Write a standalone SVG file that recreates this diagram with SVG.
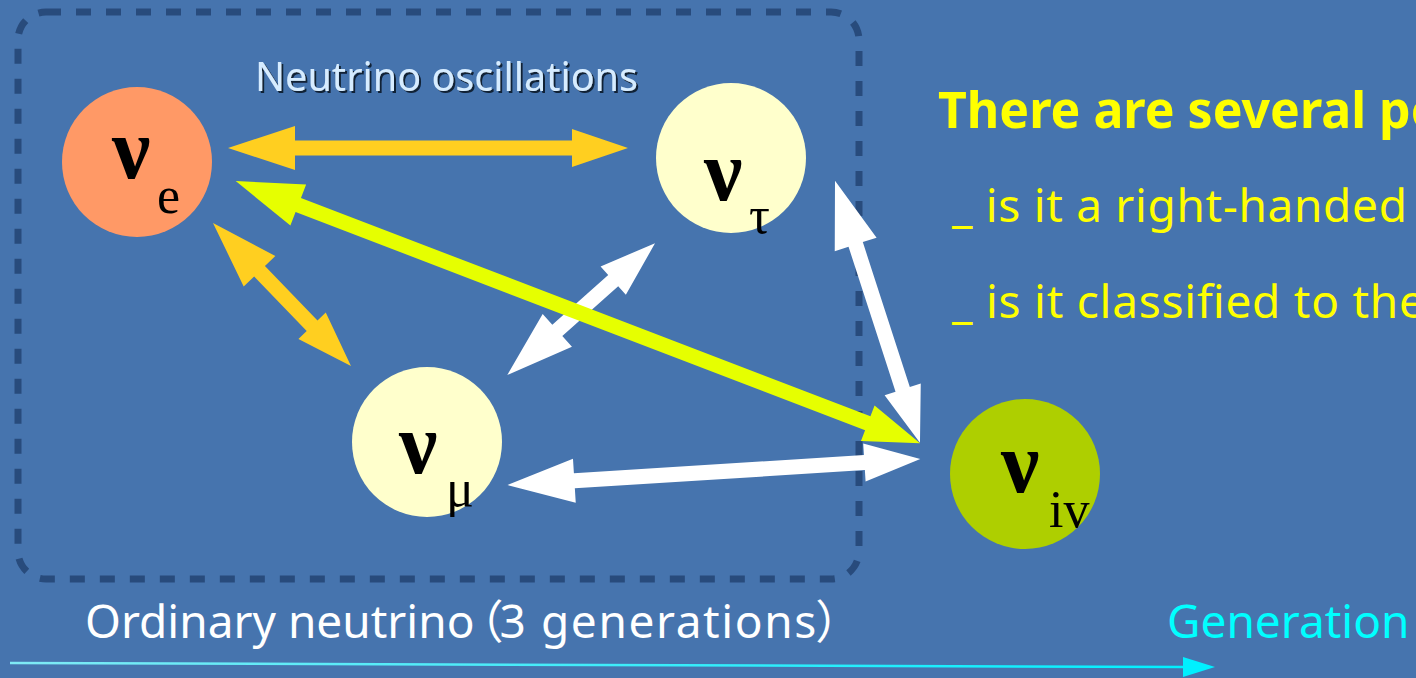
<svg xmlns="http://www.w3.org/2000/svg" width="1416" height="678" viewBox="0 0 1416 678">
  <defs>
    <filter id="shadow" x="-5%" y="-20%" width="110%" height="150%">
      <feDropShadow dx="2" dy="2" stdDeviation="0.6" flood-color="#0d1a2e" flood-opacity="0.95"/>
    </filter>
    <linearGradient id="cyanLine" x1="0" y1="0" x2="1" y2="0">
      <stop offset="0" stop-color="#7feaf5"/>
      <stop offset="1" stop-color="#00f0ff"/>
    </linearGradient>
  </defs>
  <style>
    .bg { fill: #4674AE; }
    .frame { fill: none; stroke: #284B7C; stroke-width: 7; stroke-dasharray: 15 15; }
    .nu { font-family: "Liberation Serif", "Times New Roman", serif; font-size: 86px; font-weight: bold; fill: #000; }
    .sub { font-family: "Liberation Serif", "Times New Roman", serif; font-size: 52px; fill: #000; }
    .sans { font-family: "Noto Sans", "Noto Sans CJK JP", sans-serif; }
    .orange { fill: #FFCF20; }
    .white { fill: #FFFFFF; }
    .lime { fill: #E6FF00; }
  </style>

  <rect class="bg" x="0" y="0" width="1416" height="678"/>

  <g id="frame">
    <rect class="frame" x="18" y="12" width="841" height="567" rx="28" ry="28"/>
    <text class="sans" x="255" y="91" font-size="40" fill="#D6ECFF" textLength="383" lengthAdjust="spacingAndGlyphs" filter="url(#shadow)">Neutrino oscillations</text>
  </g>

  <g id="node-nu-e">
    <circle cx="137" cy="162" r="75" fill="#FF9966"/>
    <text class="nu" x="112" y="178">ν</text>
    <text class="sub" x="157" y="213">e</text>
  </g>

  <g id="node-nu-tau">
    <circle cx="731" cy="158" r="75" fill="#FFFFCC"/>
    <text class="nu" x="704" y="200">ν</text>
    <text class="sub" x="749" y="233">τ</text>
  </g>

  <g id="node-nu-mu">
    <circle cx="427" cy="442" r="75" fill="#FFFFCC"/>
    <text class="nu" x="399" y="473">ν</text>
    <text class="sub" x="446" y="506">μ</text>
  </g>

  <g id="node-nu-iv">
    <circle cx="1025" cy="474" r="75" fill="#AECF00"/>
    <text class="nu" x="1001" y="492">ν</text>
    <text class="sub" x="1049" y="527" font-size="50">iv</text>
  </g>

  <g id="connectors">
    <polygon class="orange" transform="translate(228,148)" points="0,0 67,-22 67,-7.5 344,-7.5 344,-19 400,0 344,19 344,7.5 67,7.5 67,22"/>
    <polygon class="orange" transform="translate(213,223) rotate(46.02)" points="0,0 67,-22 67,-7.5 142.7,-7.5 142.7,-19 198.7,0 142.7,19 142.7,7.5 67,7.5 67,22"/>
    <polygon class="white" transform="translate(507.3,375) rotate(-41.72)" points="0,0 67,-22 67,-7.5 141.9,-7.5 141.9,-19 197.9,0 141.9,19 141.9,7.5 67,7.5 67,22"/>
    <polygon class="white" transform="translate(835,180.7) rotate(72.03)" points="0,0 67,-22 67,-7.5 219.4,-7.5 219.4,-19 275.4,0 219.4,19 219.4,7.5 67,7.5 67,22"/>
    <polygon class="white" transform="translate(507.5,485) rotate(-3.60)" points="0,0 67,-22 67,-7.5 357.6,-7.5 357.6,-19 413.6,0 357.6,19 357.6,7.5 67,7.5 67,22"/>
    <polygon class="lime" transform="translate(235.7,181) rotate(20.97)" points="0,0 67,-22 67,-7.5 676.9,-7.5 676.9,-19 732.9,0 676.9,19 676.9,7.5 67,7.5 67,22"/>
  </g>

  <g id="notes">
    <text class="sans" x="938" y="128" font-size="50" font-weight="bold" fill="#FFFF00">There are several po</text>
    <text class="sans" x="952" y="222" font-size="46" fill="#FFFF00" textLength="455" lengthAdjust="spacing">_ is it a right-handed</text>
    <text class="sans" x="952" y="318" font-size="46" fill="#FFFF00" textLength="473" lengthAdjust="spacing">_ is it classified to the</text>
  </g>

  <g id="axis">
    <text class="sans" x="85" y="638" font-size="46" fill="#FFFFFF" dx="0 0 0 0 0 0 0 0 0 0 0 0 0 0 0 0 0 -17 -4 1.6 1.6 1.6 1.6 1.6 1.6 1.6 1.6 1.6 1.6 1.6 1.6 -1">Ordinary neutrino（3 generations）</text>
    <text class="sans" x="1167" y="638" font-size="46" fill="#00FFFF">Generation</text>
    <line x1="10" y1="663" x2="1186" y2="667" stroke="url(#cyanLine)" stroke-width="2.5"/>
    <polygon points="1183,657 1215,667 1183,677" fill="#00F0FF"/>
  </g>
</svg>
